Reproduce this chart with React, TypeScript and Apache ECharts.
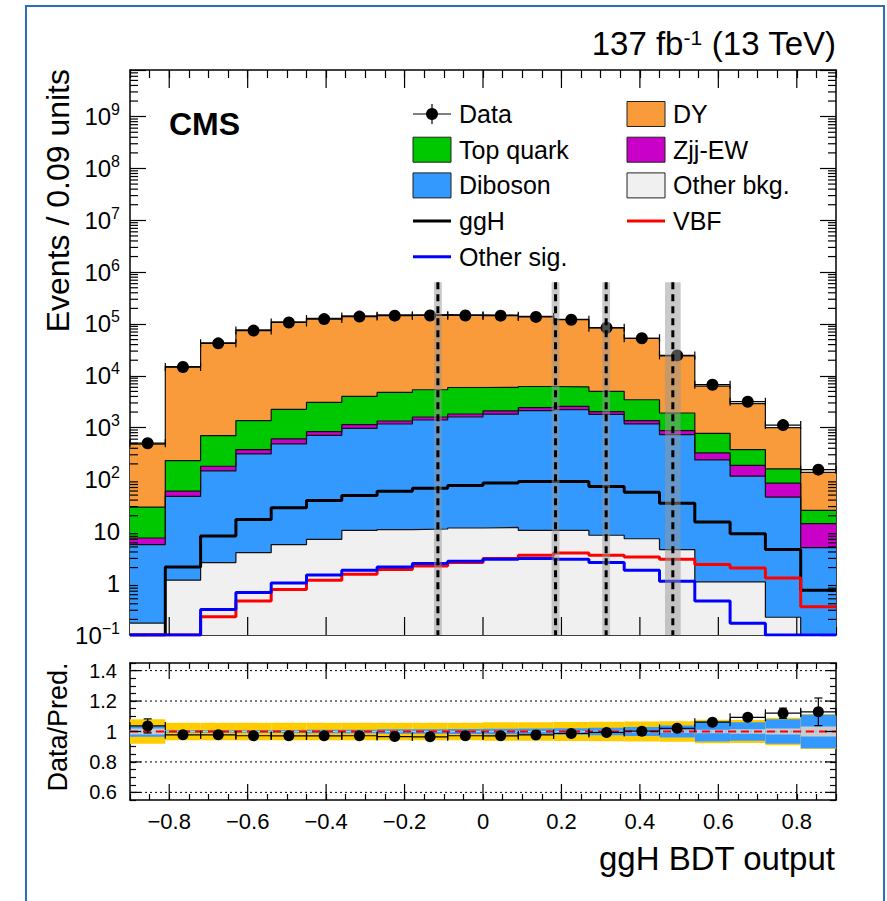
import React, { useEffect, useRef } from "react";
import * as echarts from "echarts";

// ---------------- Data ----------------
const binEdges = [-0.9, -0.81, -0.72, -0.63, -0.54, -0.45, -0.36, -0.27, -0.18, -0.09, 0, 0.09, 0.18, 0.27, 0.36, 0.45, 0.54, 0.63, 0.72, 0.81, 0.9];

const dataCounts = [501, 14770, 42350, 74650, 106900, 124400, 139000, 145000, 145700, 145800, 144800, 136900, 120900, 84500, 53100, 24800, 6740, 3170, 1120, 155];
const dyCounts = [454, 14870, 42600, 75440, 107750, 124930, 139000, 145230, 145620, 144040, 142990, 133780, 116360, 80010, 49545, 22380, 5574, 2522, 839, 112];
const topQuarkCounts = [21.9, 172, 522, 986, 1643, 2231, 2858, 3430, 3776, 4126, 3906, 3800, 3570, 2960, 2091, 1043, 450, 190, 76, 11.2];
const zjjEWCounts = [1.88, 12.5, 33, 66, 120, 127, 172, 167, 200, 228, 284, 301, 350, 227, 186, 142, 87, 72, 39.2, 9.2];
const dibosonCounts = [5.38, 46, 144.5, 308, 480, 704, 960, 1167, 1395, 1594, 1808, 2114, 2210, 1795, 1171, 729, 238, 115, 45.5, 4.86];
const otherBkgCounts = [0.17, 1.14, 2.5, 3.9, 5.55, 7.0, 10.4, 10.8, 11.1, 11.6, 11.9, 10.4, 10.4, 8.4, 7.2, 4.45, 1.06, 1.06, 0.22, 0];

const ggHCounts = [0, 2.06, 8.12, 17.0, 28.6, 39.5, 49.2, 59.6, 68.0, 76.7, 85.7, 91.6, 91.6, 73.3, 57.0, 35.0, 15.1, 9.03, 4.45, 0.73];
const vbfCounts = [0, 0, 0.225, 0.451, 0.757, 1.14, 1.49, 1.83, 2.15, 2.5, 2.99, 3.45, 3.83, 3.45, 3.21, 2.89, 2.29, 1.97, 1.26, 0.35];
const otherSigCounts = [0, 0, 0.312, 0.662, 1.01, 1.43, 1.78, 2.06, 2.39, 2.65, 2.89, 2.99, 2.89, 2.5, 1.78, 1.09, 0.451, 0.168, 0, 0];

// ratio-panel uncertainty bands (half widths)
const totUncHalf = [0.08, 0.058, 0.058, 0.058, 0.058, 0.058, 0.058, 0.058, 0.058, 0.058, 0.06, 0.06, 0.062, 0.064, 0.065, 0.068, 0.077, 0.075, 0.09, 0.115];
const bkgUncHalf = [0.035, 0.008, 0.008, 0.009, 0.01, 0.011, 0.012, 0.014, 0.015, 0.016, 0.018, 0.02, 0.022, 0.025, 0.03, 0.04, 0.065, 0.06, 0.08, 0.11];
const statUncHalf = [0.02, 0.003, 0.003, 0.003, 0.003, 0.003, 0.003, 0.003, 0.003, 0.003, 0.003, 0.003, 0.004, 0.005, 0.006, 0.008, 0.012, 0.015, 0.02, 0.033];

// category boundaries (dashed lines) and their grey bands
const cutPositions = [-0.115, 0.185, 0.314, 0.484];
const cutUncHalf = [0.01, 0.01, 0.01, 0.02];
const cutLineTop = 6.4e5;

// tick labels
const xTickLabels = [-0.8, -0.6, -0.4, -0.2, 0, 0.2, 0.4, 0.6, 0.8];
const logTickExponents = [-1, 0, 1, 2, 3, 4, 5, 6, 7, 8, 9];
const ratioTickLabels = [0.6, 0.8, 1.0, 1.2, 1.4];

const legendLeftLabels = ["Data", "Top quark", "Diboson", "ggH", "Other sig."];
const legendRightLabels = ["DY", "Zjj-EW", "Other bkg.", "VBF"];

// ---------------- Styling ----------------
const FONT = '"Liberation Sans", Arial, Helvetica, sans-serif';
const C_DY = "#f99b3b";
const C_TOP = "#00c800";
const C_ZJJ = "#c800c8";
const C_DIB = "#3399ff";
const C_OTH = "#f0f0f0";
const C_GGH = "#000000";
const C_VBF = "#ff0000";
const C_OSIG = "#0000ff";

const Y_MIN = -1;
const Y_MAX = 9.9;
const R_MIN = 0.55;
const R_MAX = 1.45;

function buildOption() {
  const nBins = binEdges.length - 1;
  const lg = (v: number) => (v > 0 ? Math.max(Y_MIN, Math.log10(v)) : Y_MIN);
  const centers = binEdges.slice(0, -1).map((e, i) => (e + binEdges[i + 1]) / 2);
  const cumulate = (...arrs: number[][]) => arrs[0].map((_, i) => arrs.reduce((s, a) => s + a[i], 0));
  const cumOther = otherBkgCounts;
  const cumDib = cumulate(otherBkgCounts, dibosonCounts);
  const cumZjj = cumulate(otherBkgCounts, dibosonCounts, zjjEWCounts);
  const cumTop = cumulate(otherBkgCounts, dibosonCounts, zjjEWCounts, topQuarkCounts);
  const cumAll = cumulate(otherBkgCounts, dibosonCounts, zjjEWCounts, topQuarkCounts, dyCounts);
  const stepPoints = (vals: number[]) => binEdges.map((e, i) => [e, lg(vals[Math.min(i, nBins - 1)])]);

  const areaSeries = (name: string, vals: number[], color: string) => ({
    type: "line",
    name,
    xAxisIndex: 0,
    yAxisIndex: 0,
    data: stepPoints(vals),
    step: "end",
    symbol: "none",
    showSymbol: false,
    silent: true,
    clip: true,
    z: 2,
    lineStyle: { color: "#111", width: 1.2 },
    areaStyle: { color, opacity: 1, origin: "start" },
  });
  const sigSeries = (name: string, vals: number[], color: string) => ({
    type: "line",
    name,
    xAxisIndex: 0,
    yAxisIndex: 0,
    data: stepPoints(vals),
    step: "end",
    symbol: "none",
    showSymbol: false,
    silent: true,
    clip: true,
    z: 3,
    lineStyle: { color, width: 3 },
  });

  const blk = { stroke: "#000", lineWidth: 1.2 };

  const pointRender = (capV: boolean, r: number) => (params: any, api: any) => {
    const c = api.value(0), y = api.value(1), x0 = api.value(2), x1 = api.value(3);
    const yu = api.value(4), yd = api.value(5);
    const p = api.coord([c, y]);
    const pl = api.coord([x0, y]);
    const pr = api.coord([x1, y]);
    const pu = api.coord([c, yu]);
    const pd = api.coord([c, yd]);
    const children: any[] = [
      { type: "line", shape: { x1: pl[0], y1: pl[1], x2: pr[0], y2: pr[1] }, style: blk },
      { type: "line", shape: { x1: pl[0], y1: pl[1] - 4, x2: pl[0], y2: pl[1] + 4 }, style: blk },
      { type: "line", shape: { x1: pr[0], y1: pr[1] - 4, x2: pr[0], y2: pr[1] + 4 }, style: blk },
      { type: "line", shape: { x1: p[0], y1: pu[1], x2: p[0], y2: pd[1] }, style: blk },
    ];
    if (capV) {
      children.push({ type: "line", shape: { x1: p[0] - 4, y1: pu[1], x2: p[0] + 4, y2: pu[1] }, style: blk });
      children.push({ type: "line", shape: { x1: p[0] - 4, y1: pd[1], x2: p[0] + 4, y2: pd[1] }, style: blk });
    }
    children.push({ type: "circle", shape: { cx: p[0], cy: p[1], r }, style: { fill: "#000" } });
    return { type: "group", children };
  };

  const tickRender = (yRef: number) => (params: any, api: any) => {
    const cs = params.coordSys;
    const kind = api.value(0), v = api.value(1), len = api.value(2);
    if (kind === 0) {
      const x = api.coord([v, yRef])[0];
      const yb = cs.y + cs.height, yt = cs.y;
      return {
        type: "group",
        children: [
          { type: "line", shape: { x1: x, y1: yb, x2: x, y2: yb - len }, style: blk },
          { type: "line", shape: { x1: x, y1: yt, x2: x, y2: yt + len }, style: blk },
        ],
      };
    }
    const y = api.coord([0, v])[1];
    const xl = cs.x, xr = cs.x + cs.width;
    return {
      type: "group",
      children: [
        { type: "line", shape: { x1: xl, y1: y, x2: xl + len, y2: y }, style: blk },
        { type: "line", shape: { x1: xr, y1: y, x2: xr - len, y2: y }, style: blk },
      ],
    };
  };

  const logMinor: number[] = [];
  logTickExponents.forEach((n) => {
    for (let k = 2; k <= 9; k++) {
      const v = n + Math.log10(k);
      if (v < Y_MAX) logMinor.push(v);
    }
  });
  const mainTickItems = [
    ...xTickLabels.map((v) => [0, v, 18]),
    ...logMinor.map((v) => [1, v, 8]),
  ];
  const ratioTickItems = [
    ...xTickLabels.map((v) => [0, v, 16]),
    ...ratioTickLabels.map((v) => [1, v, 11]),
  ];

  const near = (a: number, b: number) => Math.abs(a - b) < 1e-6;
  const fmtX = (v: number) => {
    const r = Math.round(v * 100) / 100;
    if (!xTickLabels.some((t) => near(t, r))) return "";
    if (near(r, 0)) return "0";
    return (r < 0 ? "\u2212" : "") + Math.abs(r).toFixed(1);
  };
  const fmtR = (v: number) => {
    const r = Math.round(v * 100) / 100;
    if (!ratioTickLabels.some((t) => near(t, r))) return "";
    if (near(r, 1)) return "1";
    return r.toFixed(1);
  };
  const fmtLog = (v: number) => {
    const n = Math.round(v);
    if (!near(v, n) || !logTickExponents.includes(n)) return "";
    if (n === 0) return "{b|1}";
    if (n === 1) return "{b|10}";
    return "{b|10}{s|" + (n < 0 ? "\u2212" : "") + Math.abs(n) + "}";
  };

  const axLine = { show: true, onZero: false, lineStyle: { color: "#000", width: 1.5 } };
  const xAxisBase = (grid: number, pos: string, tickLen: number, labels: boolean) => ({
    type: "value",
    gridIndex: grid,
    position: pos,
    min: -0.9,
    max: 0.9,
    interval: 0.05,
    axisLine: axLine,
    axisTick: { show: true, inside: true, length: tickLen, lineStyle: { color: "#000", width: 1.2 } },
    axisLabel: labels
      ? { show: true, formatter: fmtX, color: "#000", fontSize: 22, fontFamily: FONT, margin: 10 }
      : { show: false },
    splitLine: { show: false },
  });

  const ratioData = dataCounts.map((n, i) => {
    const pred = cumAll[i];
    const r = n / pred;
    const e = Math.sqrt(n) / pred;
    return [centers[i], r, binEdges[i], binEdges[i + 1], r + e, r - e];
  });

  const legendGraphics: any[] = [];
  const rowY = (r: number) => 114 + r * 35.7;
  const colX = [413, 627];
  const addBox = (x: number, y: number, color: string) =>
    legendGraphics.push({ type: "rect", shape: { x, y: y - 12.5, width: 38, height: 25 }, style: { fill: color, stroke: "#222", lineWidth: 1 } });
  const addLine = (x: number, y: number, color: string) =>
    legendGraphics.push({ type: "line", shape: { x1: x, y1: y, x2: x + 38, y2: y }, style: { stroke: color, lineWidth: 3 } });
  const addText = (x: number, y: number, text: string) =>
    legendGraphics.push({
      type: "text",
      x: x + 46,
      y,
      style: { text, fontSize: 25, fontFamily: FONT, fill: "#000", textAlign: "left", textVerticalAlign: "middle", align: "left", verticalAlign: "middle" },
    });
  const leftKinds = [
    { k: "data" },
    { k: "box", c: C_TOP },
    { k: "box", c: C_DIB },
    { k: "line", c: C_GGH },
    { k: "line", c: C_OSIG },
  ];
  const rightKinds = [
    { k: "box", c: C_DY },
    { k: "box", c: C_ZJJ },
    { k: "box", c: C_OTH },
    { k: "line", c: C_VBF },
  ];
  legendLeftLabels.forEach((lab, r) => {
    const x = colX[0], y = rowY(r), kd: any = leftKinds[r];
    if (kd.k === "data") {
      legendGraphics.push({ type: "line", shape: { x1: x, y1: y, x2: x + 38, y2: y }, style: blk });
      legendGraphics.push({ type: "line", shape: { x1: x + 19, y1: y - 10, x2: x + 19, y2: y + 10 }, style: blk });
      legendGraphics.push({ type: "circle", shape: { cx: x + 19, cy: y, r: 6 }, style: { fill: "#000" } });
    } else if (kd.k === "box") addBox(x, y, kd.c);
    else addLine(x, y, kd.c);
    addText(x, y, lab);
  });
  legendRightLabels.forEach((lab, r) => {
    const x = colX[1], y = rowY(r), kd: any = rightKinds[r];
    if (kd.k === "box") addBox(x, y, kd.c);
    else addLine(x, y, kd.c);
    addText(x, y, lab);
  });

  return {
    animation: false,
    backgroundColor: "#ffffff",
    textStyle: { fontFamily: FONT },
    grid: [
      { left: 130, top: 70, width: 706, height: 565, containLabel: false },
      { left: 130, top: 663, width: 706, height: 137, containLabel: false },
    ],
    xAxis: [
      xAxisBase(0, "bottom", 8, false),
      xAxisBase(0, "top", 8, false),
      xAxisBase(1, "bottom", 6, true),
      xAxisBase(1, "top", 6, false),
    ],
    yAxis: [
      {
        type: "value",
        gridIndex: 0,
        position: "left",
        min: Y_MIN,
        max: Y_MAX,
        interval: 1,
        axisLine: axLine,
        axisTick: { show: true, inside: true, length: 16, lineStyle: { color: "#000", width: 1.2 } },
        axisLabel: {
          show: true,
          formatter: fmtLog,
          margin: 10,
          color: "#000",
          fontFamily: FONT,
          rich: {
            b: { fontSize: 24, fontFamily: FONT, color: "#000", lineHeight: 30 },
            s: { fontSize: 16, fontFamily: FONT, color: "#000", verticalAlign: "top", lineHeight: 16, padding: [0, 0, 14, 0] },
          },
        },
        splitLine: { show: false },
      },
      {
        type: "value",
        gridIndex: 0,
        position: "right",
        min: Y_MIN,
        max: Y_MAX,
        interval: 1,
        axisLine: axLine,
        axisTick: { show: true, inside: true, length: 16, lineStyle: { color: "#000", width: 1.2 } },
        axisLabel: { show: false },
        splitLine: { show: false },
      },
      {
        type: "value",
        gridIndex: 1,
        position: "left",
        min: R_MIN,
        max: R_MAX,
        interval: 0.05,
        axisLine: axLine,
        axisTick: { show: true, inside: true, length: 6, lineStyle: { color: "#000", width: 1.2 } },
        axisLabel: { show: true, formatter: fmtR, color: "#000", fontSize: 20, fontFamily: FONT, margin: 13 },
        splitLine: { show: false },
      },
      {
        type: "value",
        gridIndex: 1,
        position: "right",
        min: R_MIN,
        max: R_MAX,
        interval: 0.05,
        axisLine: axLine,
        axisTick: { show: true, inside: true, length: 6, lineStyle: { color: "#000", width: 1.2 } },
        axisLabel: { show: false },
        splitLine: { show: false },
      },
    ],
    series: [
      areaSeries("DY", cumAll, C_DY),
      areaSeries("Top quark", cumTop, C_TOP),
      areaSeries("Zjj-EW", cumZjj, C_ZJJ),
      areaSeries("Diboson", cumDib, C_DIB),
      areaSeries("Other bkg.", cumOther, C_OTH),
      sigSeries("ggH", ggHCounts, C_GGH),
      sigSeries("VBF", vbfCounts, C_VBF),
      sigSeries("Other sig.", otherSigCounts, C_OSIG),
      {
        type: "custom",
        name: "Data",
        xAxisIndex: 0,
        yAxisIndex: 0,
        z: 5,
        silent: true,
        data: dataCounts.map((n, i) => [centers[i], lg(n), binEdges[i], binEdges[i + 1], lg(n + Math.sqrt(n)), lg(n - Math.sqrt(n))]),
        renderItem: pointRender(false, 6),
      },
      {
        type: "custom",
        name: "cuts",
        xAxisIndex: 0,
        yAxisIndex: 0,
        z: 6,
        silent: true,
        data: cutPositions.map((x, i) => [x, lg(cutLineTop), cutUncHalf[i]]),
        renderItem: (params: any, api: any) => {
          const x = api.value(0), top = api.value(1), h = api.value(2);
          const a = api.coord([x - h, top]);
          const b = api.coord([x + h, Y_MIN]);
          const c = api.coord([x, top]);
          const d = api.coord([x, Y_MIN]);
          return {
            type: "group",
            children: [
              { type: "rect", shape: { x: a[0], y: a[1], width: b[0] - a[0], height: b[1] - a[1] }, style: { fill: "rgba(150,150,150,0.5)" } },
              { type: "line", shape: { x1: c[0], y1: c[1], x2: d[0], y2: d[1] }, style: { stroke: "#000", lineWidth: 3, lineDash: [7, 5] } },
            ],
          };
        },
      },
      {
        type: "custom",
        name: "mainTicks",
        xAxisIndex: 0,
        yAxisIndex: 0,
        z: 7,
        silent: true,
        data: mainTickItems,
        renderItem: tickRender(0),
      },
      {
        type: "custom",
        name: "bands",
        xAxisIndex: 2,
        yAxisIndex: 2,
        z: 2,
        silent: true,
        data: totUncHalf.map((t, i) => [binEdges[i], binEdges[i + 1], t, bkgUncHalf[i], statUncHalf[i]]),
        renderItem: (params: any, api: any) => {
          const x0 = api.value(0), x1 = api.value(1);
          const mk = (h: number, fill: string) => {
            const a = api.coord([x0, 1 + h]);
            const b = api.coord([x1, 1 - h]);
            return { type: "rect", shape: { x: a[0], y: a[1], width: b[0] - a[0], height: b[1] - a[1] }, style: { fill } };
          };
          return { type: "group", children: [mk(api.value(2), "#ffcc00"), mk(api.value(3), C_DIB), mk(api.value(4), "#cccccc")] };
        },
      },
      {
        type: "custom",
        name: "ratioLines",
        xAxisIndex: 2,
        yAxisIndex: 2,
        z: 3,
        silent: true,
        data: [...ratioTickLabels.filter((v) => !near(v, 1)).map((v) => [v, 0]), [1, 1], [1, 2]],
        renderItem: (params: any, api: any) => {
          const cs = params.coordSys;
          const v = api.value(0), kind = api.value(1);
          const y = api.coord([0, v])[1];
          const style =
            kind === 0
              ? { stroke: "#000", lineWidth: 1, lineDash: [2, 3] }
              : kind === 1
              ? { stroke: "#7fbfff", lineWidth: 2, lineDash: [2, 3] }
              : { stroke: "#ff0000", lineWidth: 2, lineDash: [8, 5] };
          return { type: "line", shape: { x1: cs.x, y1: y, x2: cs.x + cs.width, y2: y }, style };
        },
      },
      {
        type: "custom",
        name: "ratioData",
        xAxisIndex: 2,
        yAxisIndex: 2,
        z: 5,
        silent: true,
        data: ratioData,
        renderItem: pointRender(true, 5.5),
      },
      {
        type: "custom",
        name: "ratioTicks",
        xAxisIndex: 2,
        yAxisIndex: 2,
        z: 7,
        silent: true,
        data: ratioTickItems,
        renderItem: tickRender(1),
      },
    ],
    graphic: [
      { type: "rect", shape: { x: 26, y: 6, width: 858, height: 950 }, style: { fill: "none", stroke: "#2c6fb7", lineWidth: 2 }, silent: true },
      {
        type: "text",
        x: 836,
        y: 43,
        style: {
          text: "137 fb{s|-1} (13 TeV)",
          fontSize: 33,
          fontFamily: FONT,
          fill: "#000",
          textAlign: "right",
          align: "right",
          textVerticalAlign: "middle",
          verticalAlign: "middle",
          rich: {
            s: { fontSize: 21, fontFamily: FONT, verticalAlign: "top", lineHeight: 21, padding: [0, 0, 16, 0] },
          },
        },
      },
      {
        type: "text",
        x: 169,
        y: 124,
        style: { text: "CMS", fontSize: 32, fontWeight: "bold", fontFamily: FONT, fill: "#000", textAlign: "left", align: "left", textVerticalAlign: "middle", verticalAlign: "middle" },
      },
      {
        type: "text",
        x: 58,
        y: 69,
        rotation: Math.PI / 2,
        style: { text: "Events / 0.09 units", fontSize: 32, fontFamily: FONT, fill: "#000", textAlign: "right", align: "right", textVerticalAlign: "middle", verticalAlign: "middle" },
      },
      {
        type: "text",
        x: 58,
        y: 727,
        rotation: Math.PI / 2,
        style: { text: "Data/Pred.", fontSize: 27, fontFamily: FONT, fill: "#000", textAlign: "center", align: "center", textVerticalAlign: "middle", verticalAlign: "middle" },
      },
      {
        type: "text",
        x: 835,
        y: 858,
        style: { text: "ggH BDT output", fontSize: 33, fontFamily: FONT, fill: "#000", textAlign: "right", align: "right", textVerticalAlign: "middle", verticalAlign: "middle" },
      },
      ...legendGraphics,
    ],
  };
}

export default function App() {
  const ref = useRef<HTMLDivElement>(null);
  useEffect(() => {
    if (!ref.current) return;
    const chart = echarts.init(ref.current, undefined, { renderer: "svg" });
    chart.setOption(buildOption() as any);
    return () => chart.dispose();
  }, []);
  return <div ref={ref} style={{ position: "absolute", left: 0, top: 0, width: 887, height: 901, background: "#fff" }} />;
}
